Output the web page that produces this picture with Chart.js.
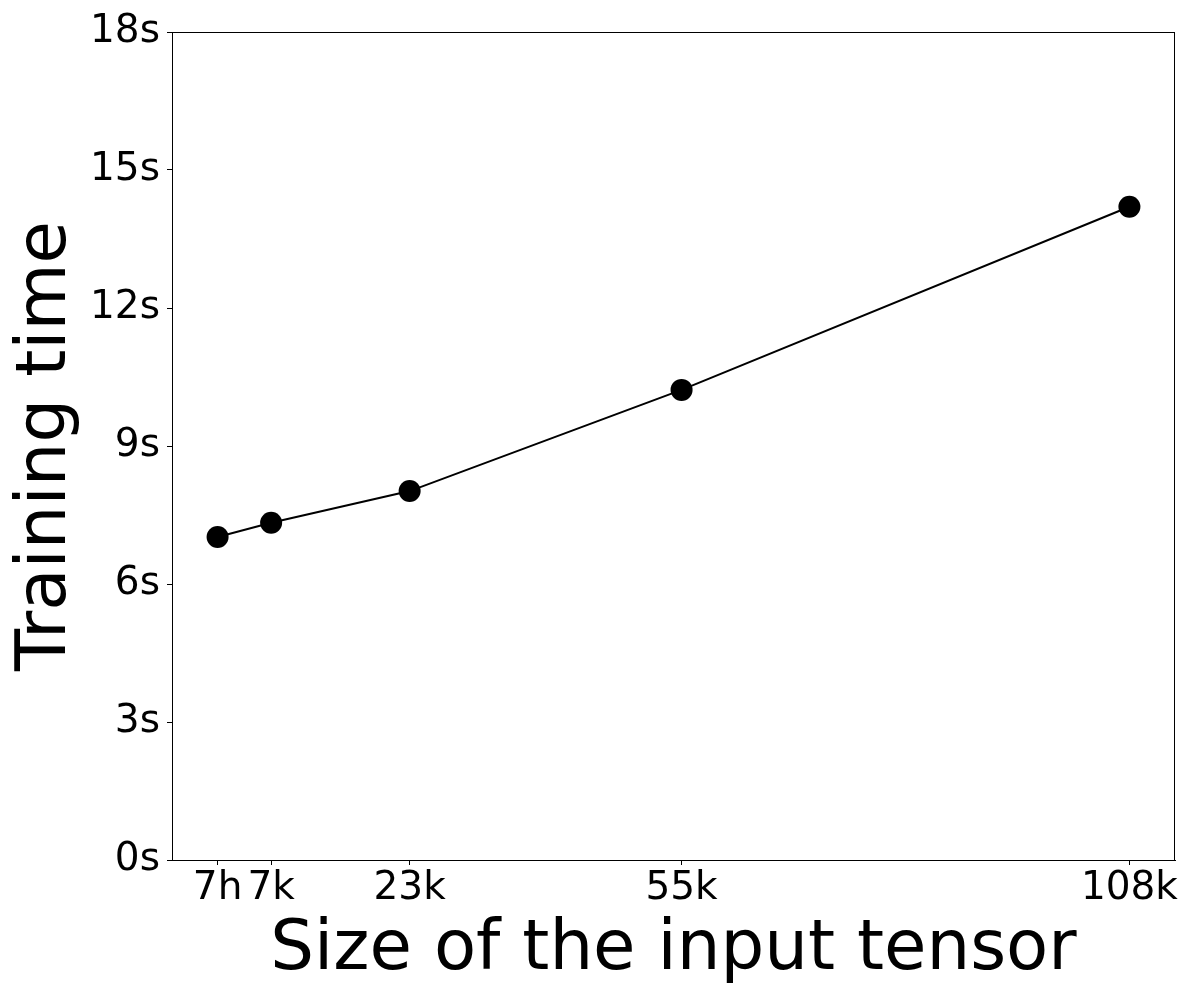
<!DOCTYPE html>
<html>
<head>
<meta charset="utf-8">
<script src="https://cdn.jsdelivr.net/npm/chart.js@4.4.0/dist/chart.umd.min.js"></script>
<style>
  html, body { margin: 0; padding: 0; background: #fff; }
  #wrap { width: 1200px; height: 1000px; }
</style>
</head>
<body>
<div id="wrap"><canvas id="timeChart"></canvas></div>
<script>
// input tensor sizes (thousands) and training time (seconds)
const sizes = [0.7, 7, 23.3, 55.3, 108];
const sizeLabels = ["7h", "7k", "23k", "55k", "108k"];
const times = [7.02, 7.33, 8.02, 10.22, 14.2];
const yTicks = [0, 3, 6, 9, 12, 15, 18];

const font = "DejaVu Sans";

// matplotlib-ish 5% margins on x
const span = sizes[sizes.length - 1] - sizes[0];
const xMin = sizes[0] - span * 0.05;
const xMax = sizes[sizes.length - 1] + span * 0.05;

const frame = {
  id: "frame",
  afterDraw(chart) {
    const { ctx, chartArea: a } = chart;
    ctx.save();
    ctx.strokeStyle = "#000";
    ctx.lineWidth = 1;
    ctx.strokeRect(a.left + 0.5, a.top + 0.5, a.right - a.left - 1, a.bottom - a.top);
    ctx.restore();
  }
};

new Chart(document.getElementById("timeChart"), {
  type: "line",
  data: {
    datasets: [
      {
        data: sizes.map((s, i) => ({ x: s, y: times[i] })),
        borderColor: "#000",
        borderWidth: 2,
        backgroundColor: "#000",
        pointBackgroundColor: "#000",
        pointBorderWidth: 0,
        pointRadius: 11,
        tension: 0,
        clip: false,
      },
    ],
  },
  options: {
    responsive: true,
    maintainAspectRatio: false,
    animation: false,
    layout: { padding: { top: 32, right: 25, left: 0, bottom: 0 } },
    plugins: { legend: { display: false }, tooltip: { enabled: false } },
    scales: {
      x: {
        type: "linear",
        min: xMin,
        max: xMax,
        afterBuildTicks: (scale) => {
          scale.ticks = sizes.map((v) => ({ value: v }));
        },
        afterFit: (scale) => {
          scale.height = 140;
        },
        ticks: {
          color: "#000",
          font: { family: font, size: 39 },
          padding: 0,
          maxRotation: 0,
          autoSkip: false,
          callback: (v, i) => sizeLabels[i],
        },
        grid: { drawOnChartArea: false, tickLength: 5, color: "#000" },
        border: { color: "#000", width: 1 },
        title: {
          display: true,
          text: "Size of the input tensor",
          color: "#000",
          font: { family: font, size: 69 },
          padding: { top: 0, bottom: 8 },
        },
      },
      y: {
        min: 0,
        max: 18,
        afterBuildTicks: (scale) => {
          scale.ticks = yTicks.map((v) => ({ value: v }));
        },
        afterFit: (scale) => {
          scale.width = 172;
        },
        ticks: {
          color: "#000",
          font: { family: font, size: 39 },
          padding: 7,
          callback: (v) => v + "s",
        },
        grid: { drawOnChartArea: false, tickLength: 5, color: "#000" },
        border: { color: "#000", width: 1 },
        title: {
          display: true,
          text: "Training time",
          color: "#000",
          font: { family: font, size: 69 },
          padding: { top: 6, bottom: 0 },
        },
      },
    },
  },
  plugins: [frame],
});
</script>
</body>
</html>
